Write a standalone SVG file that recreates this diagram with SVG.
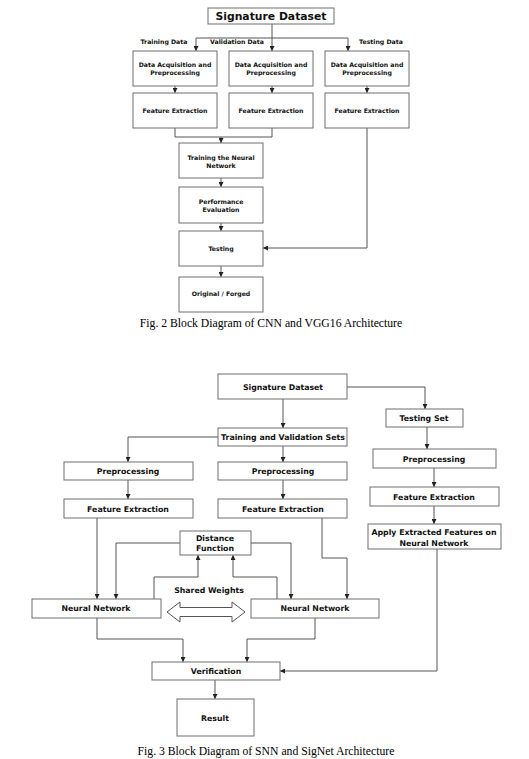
<svg xmlns="http://www.w3.org/2000/svg" width="529" height="759" viewBox="0 0 529 759">
<style>
.b{fill:#fff;stroke:#6e6e6e;stroke-width:1}
.c{fill:none;stroke:#555;stroke-width:1}
.t{font-family:"DejaVu Sans","Liberation Sans",sans-serif;font-weight:bold;fill:#111;text-anchor:middle}
.s{font-size:6.2px}
.m{font-size:7.8px}
.cap{font-family:"Liberation Serif","Times New Roman",serif;font-size:11.7px;fill:#000;text-anchor:middle}
</style>
<defs>
<marker id="ah" viewBox="0 0 6 6" refX="6" refY="3" markerWidth="5" markerHeight="5" orient="auto" markerUnits="userSpaceOnUse"><path d="M0,0 L6,3 L0,6 z" fill="#222"/></marker>
</defs>
<rect width="529" height="759" fill="#fff"/>

<!-- Figure 2 connectors -->
<g id="connectors-fig2">
<path class="c" d="M272,24 V51" marker-end="url(#ah)"/>
<path class="c" d="M196,38 H348"/>
<path class="c" d="M196,38 V51" marker-end="url(#ah)"/>
<path class="c" d="M348,38 V51" marker-end="url(#ah)"/>
<path class="c" d="M175,86 V93" marker-end="url(#ah)"/>
<path class="c" d="M272,86 V93" marker-end="url(#ah)"/>
<path class="c" d="M367,86 V93" marker-end="url(#ah)"/>
<path class="c" d="M175,128 V137 H272 V128"/>
<path class="c" d="M221,137 V143" marker-end="url(#ah)"/>
<path class="c" d="M221,178 V187" marker-end="url(#ah)"/>
<path class="c" d="M221,223 V231" marker-end="url(#ah)"/>
<path class="c" d="M221,266 V277" marker-end="url(#ah)"/>
<path class="c" d="M367,128 V248 H263" marker-end="url(#ah)"/>
</g>

<g id="f2-sig"><rect class="b" x="208" y="8" width="126" height="16"/><text class="t" x="271" y="20" font-size="10.8">Signature Dataset</text></g>
<g id="f2-labels">
<text class="t s" x="164" y="44">Training Data</text>
<text class="t s" x="237" y="44">Validation Data</text>
<text class="t s" x="381" y="44">Testing Data</text>
</g>
<g id="f2-acq1"><rect class="b" x="133" y="51" width="84" height="35"/><text class="t s" x="175" y="67">Data Acquisition and</text><text class="t s" x="175" y="74.5">Preprocessing</text></g>
<g id="f2-acq2"><rect class="b" x="229" y="51" width="84" height="35"/><text class="t s" x="271" y="67">Data Acquisition and</text><text class="t s" x="271" y="74.5">Preprocessing</text></g>
<g id="f2-acq3"><rect class="b" x="325" y="51" width="84" height="35"/><text class="t s" x="367" y="67">Data Acquisition and</text><text class="t s" x="367" y="74.5">Preprocessing</text></g>
<g id="f2-fe1"><rect class="b" x="133" y="93" width="84" height="35"/><text class="t s" x="175" y="113">Feature Extraction</text></g>
<g id="f2-fe2"><rect class="b" x="229" y="93" width="84" height="35"/><text class="t s" x="271" y="113">Feature Extraction</text></g>
<g id="f2-fe3"><rect class="b" x="325" y="93" width="84" height="35"/><text class="t s" x="367" y="113">Feature Extraction</text></g>
<g id="f2-train"><rect class="b" x="179" y="143" width="84" height="35"/><text class="t s" x="221" y="160">Training the Neural</text><text class="t s" x="221" y="167.5">Network</text></g>
<g id="f2-perf"><rect class="b" x="179" y="187" width="84" height="36"/><text class="t s" x="221" y="204">Performance</text><text class="t s" x="221" y="211.5">Evaluation</text></g>
<g id="f2-test"><rect class="b" x="179" y="231" width="84" height="35"/><text class="t s" x="221" y="251">Testing</text></g>
<g id="f2-out"><rect class="b" x="179" y="277" width="84" height="35"/><text class="t s" x="221" y="296">Original / Forged</text></g>
<text class="cap" x="271" y="327">Fig. 2 Block Diagram of CNN and VGG16 Architecture</text>

<!-- Figure 3 connectors -->
<g id="connectors-fig3">
<path class="c" d="M283,399 V428" marker-end="url(#ah)"/>
<path class="c" d="M347,387 H425 V409" marker-end="url(#ah)"/>
<path class="c" d="M218,437 H128 V462" marker-end="url(#ah)"/>
<path class="c" d="M283,446 V462" marker-end="url(#ah)"/>
<path class="c" d="M128,480 V499" marker-end="url(#ah)"/>
<path class="c" d="M283,480 V499" marker-end="url(#ah)"/>
<path class="c" d="M427,427 V449" marker-end="url(#ah)"/>
<path class="c" d="M434,468 V487" marker-end="url(#ah)"/>
<path class="c" d="M434,506 V524" marker-end="url(#ah)"/>
<path class="c" d="M97,518 V599" marker-end="url(#ah)"/>
<path class="c" d="M322,518 V558 H347 V599" marker-end="url(#ah)"/>
<path class="c" d="M180,543 H116 V599" marker-end="url(#ah)"/>
<path class="c" d="M251,543 H291 V599" marker-end="url(#ah)"/>
<path class="c" d="M154,599 V577 H198 V555" marker-end="url(#ah)"/>
<path class="c" d="M277,599 V577 H233 V555" marker-end="url(#ah)"/>
<path class="c" d="M97,618 V639 H183 V662" marker-end="url(#ah)"/>
<path class="c" d="M315,618 V639 H247 V662" marker-end="url(#ah)"/>
<path class="c" d="M437,549 V671 H280" marker-end="url(#ah)"/>
<path class="c" d="M215,680 V699" marker-end="url(#ah)"/>
</g>

<g id="f3-sig"><rect class="b" x="218" y="374" width="129" height="25"/><text class="t m" x="283" y="390">Signature Dataset</text></g>
<g id="f3-testset"><rect class="b" x="386" y="409" width="77" height="18"/><text class="t m" x="424" y="421">Testing Set</text></g>
<g id="f3-tv"><rect class="b" x="218" y="428" width="129" height="18"/><text class="t m" x="283" y="440">Training and Validation Sets</text></g>
<g id="f3-pre1"><rect class="b" x="64" y="462" width="129" height="18"/><text class="t m" x="128" y="474">Preprocessing</text></g>
<g id="f3-pre2"><rect class="b" x="218" y="462" width="129" height="18"/><text class="t m" x="283" y="474">Preprocessing</text></g>
<g id="f3-pre3"><rect class="b" x="373" y="449" width="123" height="19"/><text class="t m" x="434" y="462">Preprocessing</text></g>
<g id="f3-fe1"><rect class="b" x="64" y="499" width="129" height="19"/><text class="t m" x="128" y="512">Feature Extraction</text></g>
<g id="f3-fe2"><rect class="b" x="218" y="499" width="129" height="19"/><text class="t m" x="283" y="512">Feature Extraction</text></g>
<g id="f3-fe3"><rect class="b" x="370" y="487" width="129" height="19"/><text class="t m" x="434" y="500">Feature Extraction</text></g>
<g id="f3-apply"><rect class="b" x="368" y="524" width="133" height="25"/><text class="t m" x="434" y="535">Apply Extracted Features on</text><text class="t m" x="434" y="546">Neural Network</text></g>
<g id="f3-dist"><rect class="b" x="180" y="531" width="71" height="24"/><text class="t m" x="215" y="541">Distance</text><text class="t m" x="215" y="551">Function</text></g>
<g id="f3-shared"><text class="t m" x="209" y="593">Shared Weights</text>
<path d="M167,612 L180,602 L180,607.5 L232,607.5 L232,602 L245,612 L232,622 L232,616.5 L180,616.5 L180,622 Z" fill="#fff" stroke="#555" stroke-width="1"/></g>
<g id="f3-nn1"><rect class="b" x="32" y="599" width="129" height="19"/><text class="t m" x="96" y="611">Neural Network</text></g>
<g id="f3-nn2"><rect class="b" x="251" y="599" width="128" height="19"/><text class="t m" x="315" y="611">Neural Network</text></g>
<g id="f3-ver"><rect class="b" x="152" y="662" width="128" height="18"/><text class="t m" x="216" y="674">Verification</text></g>
<g id="f3-res"><rect class="b" x="177" y="699" width="77" height="37"/><text class="t m" x="215" y="721">Result</text></g>
<text class="cap" x="266" y="755">Fig. 3 Block Diagram of SNN and SigNet Architecture</text>
</svg>
